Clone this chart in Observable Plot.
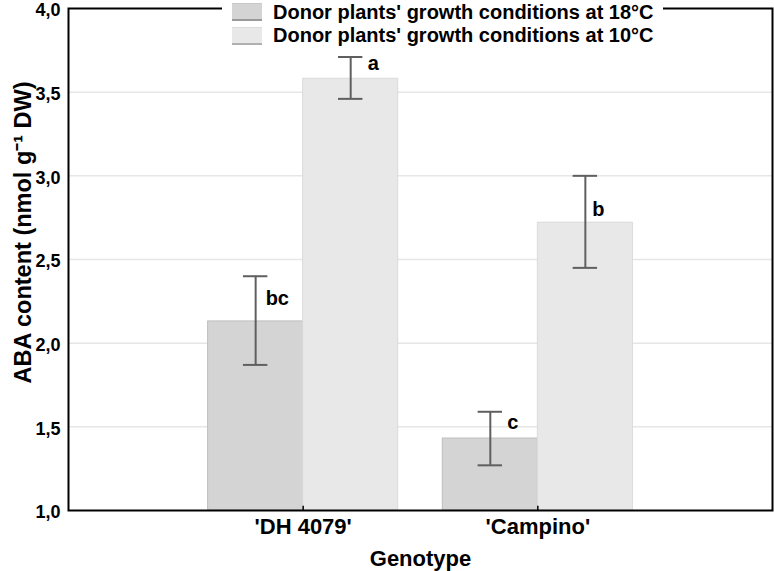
<!DOCTYPE html>
<html>
<head>
<meta charset="utf-8">
<script src="https://cdn.jsdelivr.net/npm/d3@7"></script>
<script src="https://cdn.jsdelivr.net/npm/@observablehq/plot@0.6"></script>
<style>
  body { margin: 0; background: #fff; }
  #wrap { position: relative; width: 774px; height: 571px; font-family: "Liberation Sans", Arial, sans-serif; font-weight: bold; }
  #legend { position: absolute; left: 222px; top: 0px; width: 441px; height: 47px; background: #fff; }
  .sw { position: absolute; left: 10px; width: 30px; height: 18px; box-sizing: border-box; }
  .lt { position: absolute; left: 51px; white-space: nowrap; font-size: 20px; line-height: 22px; color: #000; }
</style>
</head>
<body>
<div id="wrap"></div>
<script>
// ---- data ----
const genotypes = ["'DH 4079'", "'Campino'"];
const conditions = ["Donor plants' growth conditions at 18°C", "Donor plants' growth conditions at 10°C"];
const means18 = [2.13, 1.43];
const lower18 = [1.87, 1.27];
const upper18 = [2.40, 1.59];
const means10 = [3.58, 2.72];
const lower10 = [3.46, 2.45];
const upper10 = [3.71, 3.00];
const letters18 = ["bc", "c"];
const letters10 = ["a", "b"];
const letterY18 = [2.265, 1.523];
const letterY10 = [3.668, 2.80];
const yTicks = [1.0, 1.5, 2.0, 2.5, 3.0, 3.5, 4.0];
const colors = ["#d4d4d4", "#e8e8e8"];
const strokes = ["#bdbdbd", "#dadada"];

// ---- build table ----
const barW = 0.405;
const rows = [];
genotypes.forEach((g, i) => {
  rows.push({g, pos: i + 1, cond: 0, x1: i + 1 - barW, x2: i + 1, mean: means18[i], lo: lower18[i], hi: upper18[i], letter: letters18[i], ly: letterY18[i]});
  rows.push({g, pos: i + 1, cond: 1, x1: i + 1, x2: i + 1 + barW, mean: means10[i], lo: lower10[i], hi: upper10[i], letter: letters10[i], ly: letterY10[i]});
});
rows.forEach(r => { r.xc = (r.x1 + r.x2) / 2; });
const letterDx = [10, 17, 17, 7]; // px offsets of letters from error bar
const capHalf = 0.052;
const fmt = d => d.toFixed(1).replace(".", ",");

const chart = Plot.plot({
  width: 774,
  height: 571,
  marginLeft: 68,
  marginRight: 2,
  marginTop: 8,
  marginBottom: 61,
  style: {fontFamily: "'Liberation Sans', Arial, sans-serif", fontWeight: "bold", color: "#000", background: "#fff"},
  x: {domain: [0, 3], axis: null},
  y: {domain: [1, 4], axis: null},
  marks: [
    Plot.gridY([1.5, 2.0, 2.5, 3.0, 3.5], {stroke: "#e6e6e6", strokeOpacity: 1, strokeWidth: 1.5}),
    Plot.rect(rows, {x1: "x1", x2: "x2", y1: 1, y2: "mean", fill: r => colors[r.cond], stroke: r => strokes[r.cond], strokeWidth: 1}),
    Plot.ruleX(rows, {x: "xc", y1: "lo", y2: "hi", stroke: "#5f5f5f", strokeWidth: 2}),
    Plot.ruleY(rows, {y: "lo", x1: r => r.xc - capHalf, x2: r => r.xc + capHalf, stroke: "#5f5f5f", strokeWidth: 2}),
    Plot.ruleY(rows, {y: "hi", x1: r => r.xc - capHalf, x2: r => r.xc + capHalf, stroke: "#5f5f5f", strokeWidth: 2}),
    ...rows.map((r, i) => Plot.text([r], {x: "xc", y: "ly", text: "letter", textAnchor: "start", dx: letterDx[i], fontSize: 20, fontWeight: "bold", fill: "#000"})),
    Plot.ruleX([1, 2], {y1: 1, y2: 1.025, stroke: "#000", strokeWidth: 1.5}),
    Plot.frame({stroke: "#000", strokeWidth: 2}),
    Plot.axisY({ticks: yTicks, tickFormat: fmt, tickSize: 0, tickPadding: 8, dy: 2, fontSize: 18, fontWeight: "bold", label: null}),
    Plot.axisX({ticks: [1, 2], tickFormat: d => genotypes[d - 1], tickSize: 0, tickPadding: 8, fontSize: 22, fontWeight: "bold", label: null}),
    Plot.text(["ABA content (nmol g\u207B\u00B9 DW)"], {frameAnchor: "left", textAnchor: "middle", rotate: -90, dx: -45, dy: -27, fontSize: 23.5, fontWeight: "bold", fill: "#000"}),
    Plot.text(["Genotype"], {frameAnchor: "bottom", dy: 55, fontSize: 22, fontWeight: "bold", fill: "#000"})
  ]
});

const wrap = document.getElementById("wrap");
wrap.appendChild(chart);

// legend overlay
const legend = document.createElement("div");
legend.id = "legend";
conditions.forEach((c, i) => {
  const sw = document.createElement("div");
  sw.className = "sw";
  sw.style.top = (i === 0 ? 3 : 27) + "px";
  sw.style.background = colors[i];
  sw.style.borderTop = "1px solid " + (i === 0 ? "#c8c8c8" : "#dcdcdc");
  sw.style.borderBottom = "2px solid " + (i === 0 ? "#9a9a9a" : "#b0b0b0");
  legend.appendChild(sw);
  const t = document.createElement("div");
  t.className = "lt";
  t.style.top = (i === 0 ? 1 : 24) + "px";
  t.textContent = c;
  legend.appendChild(t);
});
wrap.appendChild(legend);
</script>
</body>
</html>
